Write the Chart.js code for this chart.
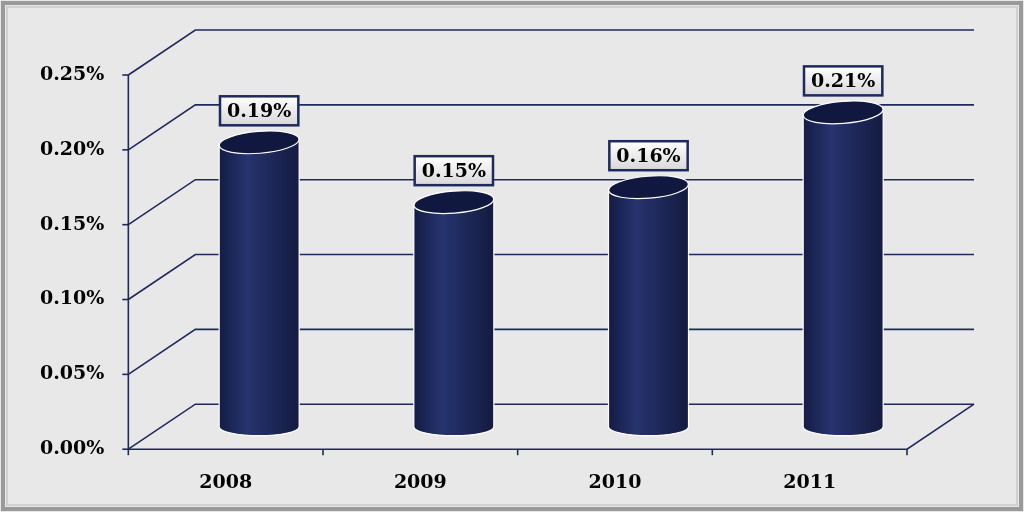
<!DOCTYPE html>
<html><head><meta charset="utf-8">
<script src="https://cdn.jsdelivr.net/npm/chart.js@4"></script>
<style>html,body{margin:0;padding:0;background:#e8e8e8}canvas{display:block}</style>
</head><body>
<div style="width:1024px;height:512px"><canvas id="c"></canvas></div>
<script>
const categories = ['2008','2009','2010','2011'];
const values = [0.19, 0.15, 0.16, 0.21];
const labels = ['0.19%','0.15%','0.16%','0.21%'];
const DX = 67, DY = 45;
const font = '"DejaVu Serif", "Liberation Serif", serif';

const frame = {
  id:'frame',
  beforeDraw(chart){
    const ctx = chart.ctx;
    ctx.save();
    ctx.fillStyle = '#e8e8e8'; ctx.fillRect(0,0,1024,512);
    ctx.strokeStyle = '#9a9a9a'; ctx.lineWidth = 4; ctx.strokeRect(3,3,1018,506);
    ctx.strokeStyle = '#d0d0d0'; ctx.lineWidth = 2; ctx.strokeRect(7,7,1010,498);
    const y = chart.scales.y, a = chart.chartArea;
    ctx.strokeStyle = '#1f2a5c'; ctx.lineWidth = 1.6;
    y.ticks.forEach(t => {
      const py = y.getPixelForValue(t.value);
      ctx.beginPath(); ctx.moveTo(a.left, py); ctx.lineTo(a.left+DX, py-DY); ctx.lineTo(a.right+DX, py-DY); ctx.stroke();
    });
    const top = y.getPixelForValue(0.25), bot = y.getPixelForValue(0);
    ctx.beginPath(); ctx.moveTo(a.left, top); ctx.lineTo(a.left, bot); ctx.lineTo(a.right, bot); ctx.lineTo(a.right+DX, bot-DY); ctx.stroke();
    y.ticks.forEach(t => { const py=y.getPixelForValue(t.value); ctx.beginPath(); ctx.moveTo(a.left-6,py); ctx.lineTo(a.left,py); ctx.stroke(); });
    for (let i=0;i<=categories.length;i++){ const px=a.left+(a.right-a.left)*i/categories.length; ctx.beginPath(); ctx.moveTo(px,bot); ctx.lineTo(px,bot+6); ctx.stroke(); }
    ctx.restore();
  },
  afterDatasetsDraw(chart){
    const ctx = chart.ctx, y = chart.scales.y;
    const meta = chart.getDatasetMeta(0);
    meta.data.forEach((el,i) => {
      const cx = el.x + DX/2, r = 40, ry = 9;
      const yb = y.getPixelForValue(0) - DY/2;
      const yt = y.getPixelForValue(values[i]) - DY/2;
      ctx.save();
      const g = ctx.createLinearGradient(cx-r,0,cx+r,0);
      g.addColorStop(0,'#141c45'); g.addColorStop(0.35,'#26336e'); g.addColorStop(1,'#141b40');
      ctx.fillStyle = g;
      ctx.beginPath(); ctx.moveTo(cx-r,yt); ctx.lineTo(cx-r,yb); ctx.ellipse(cx,yb,r,ry,0,Math.PI,0,true); ctx.lineTo(cx+r,yt); ctx.closePath(); ctx.fill();
      ctx.strokeStyle='#ffffff'; ctx.lineWidth=1.2;
      ctx.beginPath(); ctx.moveTo(cx-r,yt); ctx.lineTo(cx-r,yb); ctx.ellipse(cx,yb,r,ry,0,Math.PI,0,true); ctx.lineTo(cx+r,yt); ctx.stroke();
      ctx.fillStyle='#111840';
      ctx.beginPath(); ctx.ellipse(cx,yt,r,ry+2,-0.08,0,Math.PI*2); ctx.fill(); ctx.stroke();
      ctx.font = 'bold 19px '+font;
      const w = ctx.measureText(labels[i]).width + 14, h = 29;
      const by = yt - 46;
      const lg = ctx.createLinearGradient(0,by,0,by+h);
      lg.addColorStop(0,'#ffffff'); lg.addColorStop(1,'#d8d8d8');
      ctx.fillStyle=lg; ctx.fillRect(cx-w/2,by,w,h);
      ctx.strokeStyle='#1f2a5c'; ctx.lineWidth=2.5; ctx.strokeRect(cx-w/2,by,w,h);
      ctx.fillStyle='#000'; ctx.textAlign='center'; ctx.textBaseline='middle';
      ctx.fillText(labels[i], cx, by+h/2+1);
      ctx.restore();
    });
  }
};

new Chart(document.getElementById('c'), {
  type:'bar',
  data:{labels:categories, datasets:[{data:values, backgroundColor:'rgba(0,0,0,0)'}]},
  options:{
    responsive:true, maintainAspectRatio:false, animation:false, devicePixelRatio:1,
    layout:{padding:{top:75,right:117,bottom:4,left:24}},
    plugins:{legend:{display:false},tooltip:{enabled:false}},
    scales:{
      y:{min:0,max:0.25,border:{display:false},grid:{display:false},
         ticks:{stepSize:0.05,padding:16,color:'#000',font:{family:font,size:19,weight:'bold'},callback:v=>v.toFixed(2)+'%'}},
      x:{border:{display:false},grid:{display:false},
         ticks:{padding:14,color:'#000',font:{family:font,size:19,weight:'bold'}}}
    }
  },
  plugins:[frame]
});
</script>
</body></html>
